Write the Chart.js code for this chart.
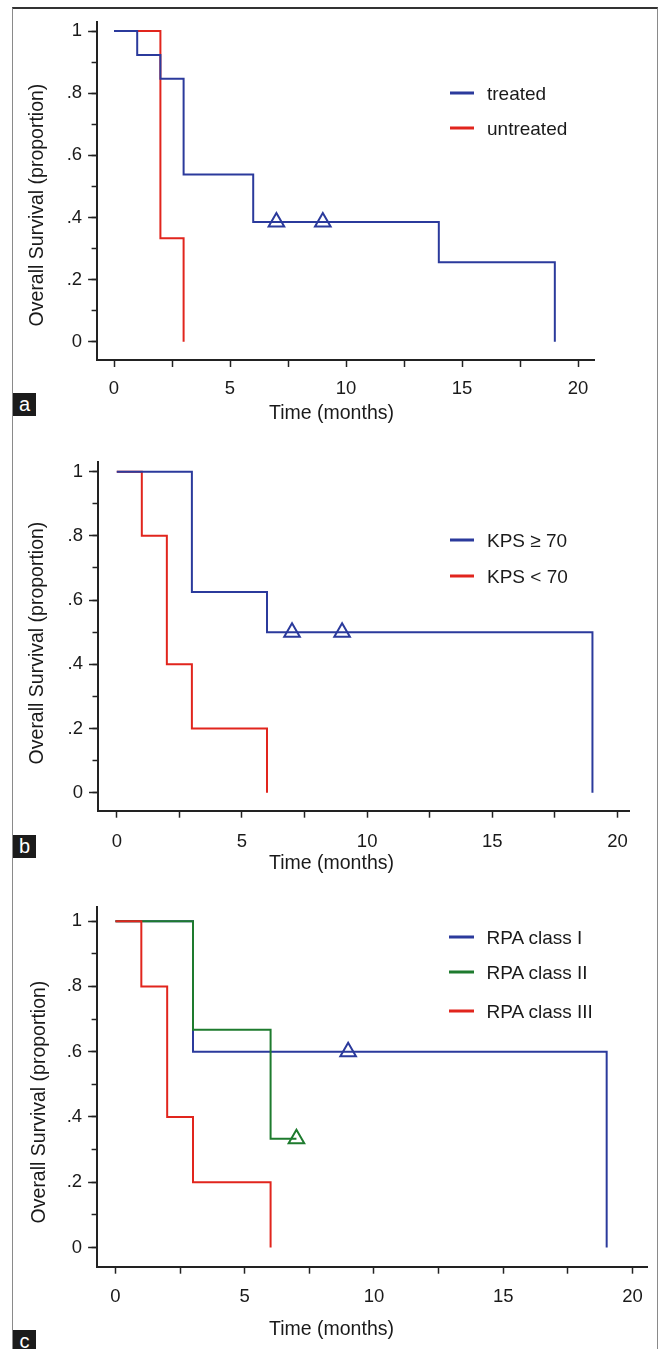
<!DOCTYPE html>
<html>
<head>
<meta charset="utf-8">
<script src="https://cdn.jsdelivr.net/npm/chart.js@4.4.1/dist/chart.umd.min.js"></script>
<style>
html,body{margin:0;padding:0;background:#fff;}
#wrap{position:relative;width:659px;height:1349px;overflow:hidden;font-family:"Liberation Sans",Arial,sans-serif;color:#1a1a1a;}
#frame{position:absolute;left:12px;top:7px;width:646px;height:1400px;border-top:2px solid #333;border-left:1px solid #8a8a8a;border-right:1px solid #8a8a8a;box-sizing:border-box;}
canvas{position:absolute;left:0;}
.ttl{position:absolute;white-space:nowrap;font-size:19.5px;line-height:1;transform:translate(-50%,-50%);}
.ytl{transform:translate(-50%,-50%) rotate(-90deg);}
.lg{position:absolute;font-size:19px;white-space:nowrap;line-height:1;transform:translateY(-50%);}
.lg i{position:absolute;left:-37.5px;top:50%;width:24.5px;height:3px;margin-top:-1.5px;}
.tag{position:absolute;left:13px;width:23px;height:23px;background:#1b1b1b;color:#fff;font-size:20px;text-align:center;line-height:22px;}
</style>
</head>
<body>
<div id="wrap">
  <div id="frame"></div>
  <canvas id="ca"></canvas>
  <canvas id="cb"></canvas>
  <canvas id="cc"></canvas>
</div>
<script>
// ---------------- data ----------------
const xTickLabels = ['0', '5', '10', '15', '20'];
const yTickLabels = ['0', '.2', '.4', '.6', '.8', '1'];
const xTitle = 'Time (months)';
const yTitle = 'Overall Survival (proportion)';

// panel a
const legendA = ['treated', 'untreated'];
const aTreatedT = [0, 1, 2, 3, 6, 14, 19];
const aTreatedS = [1, 0.923, 0.846, 0.538, 0.385, 0.256, 0];
const aTreatedCensT = [7, 9];
const aTreatedCensS = [0.385, 0.385];
const aUntreatedT = [0, 2, 3];
const aUntreatedS = [1, 0.333, 0];

// panel b
const legendB = ['KPS \u2265 70', 'KPS < 70'];
const bHighT = [0, 3, 6, 19];
const bHighS = [1, 0.625, 0.5, 0];
const bHighCensT = [7, 9];
const bHighCensS = [0.5, 0.5];
const bLowT = [0, 1, 2, 3, 6];
const bLowS = [1, 0.8, 0.4, 0.2, 0];

// panel c
const legendC = ['RPA class I', 'RPA class II', 'RPA class III'];
const c1T = [0, 3, 19];
const c1S = [1, 0.6, 0];
const c1CensT = [9];
const c1CensS = [0.6];
const c2T = [0, 3, 6, 7];
const c2S = [1, 0.667, 0.333, 0.333];
const c2CensT = [7];
const c2CensS = [0.333];
const c3T = [0, 1, 2, 3, 6];
const c3S = [1, 0.8, 0.4, 0.2, 0];

// ---------------- styles / layout ----------------
const BLUE = '#2b3a9c', RED = '#e1251d', GREEN = '#1e7b2e', INK = '#1a1a1a';
const FONT = '"Liberation Sans", Arial, sans-serif';

const geo = {
  a: {top: 0,   h: 440, L: 96.6, R: 594.5, T: 21.7,  B: 360,    xmin: -0.75, xmax: 20.71, ymin: -0.059, ymax: 1.03,  xPad: 11.2,
      xt: [331.5, 413.3], yt: [37, 204.5], lgX: 487, lgY: [92.7, 127.7], tag: 393},
  b: {top: 440, h: 450, L: 97.5, R: 629,   T: 461.7, B: 810.7,  xmin: -0.77, xmax: 20.46, ymin: -0.056, ymax: 1.031, xPad: 12.9,
      xt: [331.5, 862.7], yt: [37, 643.3], lgX: 487, lgY: [540, 576], tag: 835},
  c: {top: 890, h: 459, L: 96.6, R: 647,   T: 901.7, B: 1266.7, xmin: -0.73, xmax: 20.56, ymin: -0.059, ymax: 1.043, xPad: 12.5,
      xt: [331.5, 1329.3], yt: [39, 1101.7], lgX: 486.6, lgY: [936.7, 971.7, 1010.7], tag: 1330}
};

function pts(t, s) { return t.map((x, i) => ({x: x, y: s[i]})); }
function curve(t, s, color, order) {
  return {data: pts(t, s), borderColor: color, backgroundColor: color, borderWidth: 2,
          stepped: true, pointRadius: 0, pointHoverRadius: 0, fill: false, order: order};
}
function cens(t, s, color, order) {
  return {data: pts(t, s), showLine: false, borderColor: color, pointStyle: 'triangle',
          pointRadius: 9, pointHoverRadius: 9, pointBorderWidth: 2, pointBorderColor: color,
          pointBackgroundColor: 'rgba(0,0,0,0)', order: order};
}

function xLabel(v) { const i = v / 5; return Number.isInteger(i) ? xTickLabels[i] : ''; }
function yLabel(v) { const i = Math.round(v / 0.2); return Math.abs(v - i * 0.2) < 1e-6 ? yTickLabels[i] : ''; }

function makeChart(id, g, datasets) {
  const cv = document.getElementById(id);
  cv.width = 659; cv.height = g.h;
  cv.style.top = g.top + 'px';
  return new Chart(cv, {
    type: 'line',
    data: {datasets: datasets},
    options: {
      responsive: false, animation: false, devicePixelRatio: 1,
      layout: {padding: {left: 0, top: g.T - g.top, right: 659 - g.R, bottom: 0}},
      plugins: {legend: {display: false}, tooltip: {enabled: false}},
      events: [],
      scales: {
        x: {
          type: 'linear', position: 'bottom', min: g.xmin, max: g.xmax,
          afterFit: s => { s.height = g.top + g.h - g.B; },
          ticks: {stepSize: 2.5, includeBounds: false, autoSkip: false, maxRotation: 0, padding: g.xPad,
                  color: INK, font: {family: FONT, size: 18.5, lineHeight: 1.2}, callback: xLabel},
          grid: {display: true, drawOnChartArea: false, drawTicks: true, tickLength: 7, tickWidth: 1.5, tickColor: '#222'},
          border: {display: true, color: '#222', width: 2},
          title: {display: false}
        },
        y: {
          type: 'linear', position: 'left', min: g.ymin, max: g.ymax, weight: 0,
          afterFit: s => { s.width = g.L; },
          ticks: {stepSize: 0.2, includeBounds: false, autoSkip: false, padding: 6,
                  color: INK, font: {family: FONT, size: 18.5, lineHeight: 1.2}, callback: yLabel},
          grid: {display: true, drawOnChartArea: false, drawTicks: true, tickLength: 8.5, tickWidth: 1.5, tickColor: '#222'},
          border: {display: true, color: '#222', width: 2},
          title: {display: false}
        },
        yMinor: {
          type: 'linear', position: 'left', min: g.ymin, max: g.ymax, weight: -1,
          afterFit: s => { s.width = 0; },
          ticks: {display: false, stepSize: 0.1, includeBounds: false, autoSkip: false},
          grid: {display: true, drawOnChartArea: false, drawTicks: true, tickLength: 5, tickWidth: 1.5, tickColor: '#222'},
          border: {display: false}
        }
      }
    }
  });
}

makeChart('ca', geo.a, [
  curve(aTreatedT, aTreatedS, BLUE, 0),
  cens(aTreatedCensT, aTreatedCensS, BLUE, 0),
  curve(aUntreatedT, aUntreatedS, RED, 1)
]);
makeChart('cb', geo.b, [
  curve(bHighT, bHighS, BLUE, 0),
  cens(bHighCensT, bHighCensS, BLUE, 0),
  curve(bLowT, bLowS, RED, 1)
]);
makeChart('cc', geo.c, [
  curve(c1T, c1S, BLUE, 2),
  cens(c1CensT, c1CensS, BLUE, 2),
  curve(c2T, c2S, GREEN, 1),
  cens(c2CensT, c2CensS, GREEN, 1),
  curve(c3T, c3S, RED, 0)
]);

// ---------------- text overlays ----------------
const wrap = document.getElementById('wrap');
function addDiv(cls, html, css) {
  const d = document.createElement('div');
  d.className = cls; d.innerHTML = html;
  Object.assign(d.style, css);
  wrap.appendChild(d);
  return d;
}
const panelLegends = {a: [legendA, [BLUE, RED]], b: [legendB, [BLUE, RED]], c: [legendC, [BLUE, GREEN, RED]]};
['a', 'b', 'c'].forEach(k => {
  const g = geo[k];
  addDiv('ttl', xTitle, {left: g.xt[0] + 'px', top: g.xt[1] + 'px'});
  addDiv('ttl ytl', yTitle, {left: g.yt[0] + 'px', top: g.yt[1] + 'px'});
  const [names, cols] = panelLegends[k];
  names.forEach((n, i) => {
    const d = addDiv('lg', '', {left: g.lgX + 'px', top: g.lgY[i] + 'px'});
    const sw = document.createElement('i'); sw.style.background = cols[i];
    d.appendChild(sw);
    d.appendChild(document.createTextNode(n));
  });
  addDiv('tag', k, {top: g.tag + 'px'});
});
</script>
</body>
</html>
